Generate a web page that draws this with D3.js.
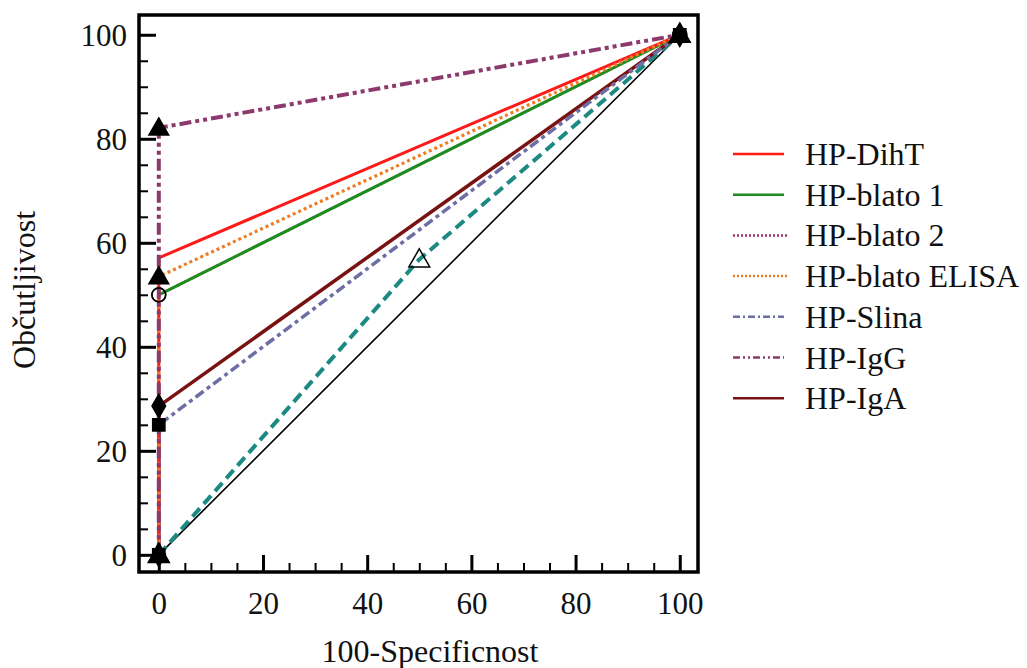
<!DOCTYPE html>
<html><head><meta charset="utf-8">
<script src="https://cdn.jsdelivr.net/npm/d3@7"></script>
<style>body{margin:0;background:#fff}svg{display:block}
svg text{font-family:"Liberation Serif","Times New Roman",Times,serif !important;}</style>
</head><body>
<svg id="c" width="1027" height="668"></svg>
<script>
// ---- data ----
const xTicks = [0, 20, 40, 60, 80, 100];
const yTicks = [0, 20, 40, 60, 80, 100];
const xLabel = "100-Specificnost";
const yLabel = "Občutljivost";
const seriesNames = ["HP-DihT", "HP-blato 1", "HP-blato 2", "HP-blato ELISA", "HP-Slina", "HP-IgG", "HP-IgA"];
const dihtX = [0, 0, 100],   dihtY = [0, 57.1, 100];
const blato1X = [0, 100],    blato1Y = [50, 100];
const blato2X = [0, 0, 100], blato2Y = [0, 50, 100];
const elisaX = [0, 0, 100],  elisaY = [0, 53.5, 100];
const slinaX = [0, 0, 100],  slinaY = [0, 25, 100];
const iggX = [0, 0, 100],    iggY = [0, 82.1, 100];
const igaX = [0, 0, 100],    igaY = [0, 28.6, 100];
const extraX = [0, 50, 100], extraY = [0, 56.8, 100];   // unlabeled dashed curve
const refX = [0, 100],       refY = [0, 100];           // chance diagonal

// ---- styles ----
const styles = {
  "HP-DihT":        {color:"#ff1a1a", width:3,   dash:null},
  "HP-blato 1":     {color:"#1f8c1f", width:3,   dash:null},
  "HP-blato 2":     {color:"#a3306f", width:2.5, dash:"2,2"},
  "HP-blato ELISA": {color:"#f07b22", width:3.2, dash:"3,3"},
  "HP-Slina":       {color:"#6e6ea6", width:3.5, dash:"10,4,4,4"},
  "HP-IgG":         {color:"#8c3a6c", width:4,   dash:"12,4,4,4,4,4"},
  "HP-IgA":         {color:"#7a1212", width:3.5, dash:null}
};

const svg = d3.select("#c");
svg.append("rect").attr("width",1027).attr("height",668).attr("fill","#fff");
const x = d3.scaleLinear().domain([-3.8, 103.5]).range([139, 698]);
const y = d3.scaleLinear().domain([-3.3, 103.8]).range([572, 15]);
const font = "'Liberation Serif','Times New Roman',serif";

const line = d3.line().x(d => x(d[0])).y(d => y(d[1]));
const zip = (a, b) => a.map((v, i) => [v, b[i]]);

const g = svg.append("g");
function drawLine(pts, st) {
  g.append("path").attr("d", line(pts)).attr("fill","none")
    .attr("stroke", st.color).attr("stroke-width", st.width)
    .attr("stroke-dasharray", st.dash).attr("stroke-linejoin","round");
}
const sym = {
  triangle: d3.symbol().type(d3.symbolTriangle).size(170),
  otriangle: d3.symbol().type(d3.symbolTriangle).size(190),
  square: d3.symbol().type(d3.symbolSquare).size(150),
  diamond: d3.symbol().type(d3.symbolDiamond).size(160),
  circle: d3.symbol().type(d3.symbolCircle).size(150)
};
function drawMarkers(pts, type, filled) {
  g.selectAll(null).data(pts).enter().append("path")
    .attr("d", sym[type]())
    .attr("transform", d => `translate(${x(d[0])},${y(d[1]) + (type.indexOf("triangle")>=0?1.5:0)})`)
    .attr("fill", filled ? "#000" : "#fff").attr("fill-opacity", filled ? 1 : 0)
    .attr("stroke", "#000").attr("stroke-width", 1.5);
}

const data = {
  "HP-DihT": zip(dihtX, dihtY),
  "HP-blato 1": zip(blato1X, blato1Y),
  "HP-blato 2": zip(blato2X, blato2Y),
  "HP-blato ELISA": zip(elisaX, elisaY),
  "HP-Slina": zip(slinaX, slinaY),
  "HP-IgG": zip(iggX, iggY),
  "HP-IgA": zip(igaX, igaY)
};

drawLine(zip(refX, refY), {color:"#000", width:1.6, dash:null});
drawLine(zip(extraX, extraY), {color:"#1c8a82", width:4, dash:"11,6"});
["HP-IgA","HP-Slina","HP-blato 2","HP-blato 1","HP-DihT","HP-blato ELISA","HP-IgG"]
  .forEach(n => drawLine(data[n], styles[n]));
drawMarkers(zip(extraX, extraY), "otriangle", false);
drawMarkers(data["HP-blato 1"], "circle", false);
drawMarkers(data["HP-blato 2"].slice(1), "circle", false);
drawMarkers(data["HP-blato ELISA"], "triangle", true);
drawMarkers(data["HP-Slina"], "square", true);
drawMarkers(data["HP-IgA"], "diamond", true);
drawMarkers(data["HP-IgG"], "triangle", true);

// axes
const minorX = d3.range(0, 101, 5).filter(v => v % 20 !== 0);
const minorY = minorX;
const ax = svg.append("g");
const xAxis = ax.append("g").attr("transform","translate(0,572)")
  .call(d3.axisBottom(x).tickValues(xTicks).tickSize(-17).tickPadding(20).tickFormat(d3.format("d")));
const xMinor = ax.append("g").attr("transform","translate(0,572)")
  .call(d3.axisBottom(x).tickValues(minorX).tickSize(-9).tickFormat(""));
const yAxis = ax.append("g").attr("transform","translate(139,0)")
  .call(d3.axisLeft(y).tickValues(yTicks).tickSize(-17).tickPadding(12).tickFormat(d3.format("d")));
const yMinor = ax.append("g").attr("transform","translate(139,0)")
  .call(d3.axisLeft(y).tickValues(minorY).tickSize(-9).tickFormat(""));
ax.selectAll("g").attr("font-family", null);
ax.selectAll(".domain").remove();
ax.selectAll(".tick line").attr("stroke","#000");
xAxis.selectAll(".tick line").attr("stroke-width",3);
yAxis.selectAll(".tick line").attr("stroke-width",3);
xMinor.selectAll(".tick line").attr("stroke-width",2);
yMinor.selectAll(".tick line").attr("stroke-width",2);
ax.selectAll(".tick text").style("font-family", font).attr("font-size", 31).attr("fill","#111");
yAxis.selectAll(".tick text").attr("dy","0.34em");

// frame
svg.append("rect").attr("x",139).attr("y",15).attr("width",559).attr("height",557)
  .attr("fill","none").attr("stroke","#000").attr("stroke-width",3.5);

// axis labels
svg.append("text").attr("x",430).attr("y",662).attr("text-anchor","middle")
  .style("font-family",font).attr("font-size",32).attr("fill","#111").text(xLabel);
svg.append("text").attr("transform","translate(35,290) rotate(-90)").attr("text-anchor","middle")
  .style("font-family",font).attr("font-size",32).attr("fill","#111").text(yLabel);

// legend
const lg = svg.append("g");
seriesNames.forEach((n, i) => {
  const cy = 154 + i * 40.7;
  const st = styles[n];
  const dotted = st.dash && st.dash.length <= 3;
  lg.append("line").attr("x1",733).attr("x2", dotted ? 787 : 784).attr("y1",cy).attr("y2",cy)
    .attr("stroke",st.color).attr("stroke-width", 2.5)
    .attr("stroke-dasharray", st.dash ? (n==="HP-Slina" ? "7,3,2,3" : n==="HP-IgG" ? "7,3,2,3,2,3" : "2,2") : null);
  lg.append("text").attr("x",805).attr("y",cy + 11).style("font-family",font).attr("font-size",32)
    .attr("fill","#111").text(n);
});
</script>
</body></html>
